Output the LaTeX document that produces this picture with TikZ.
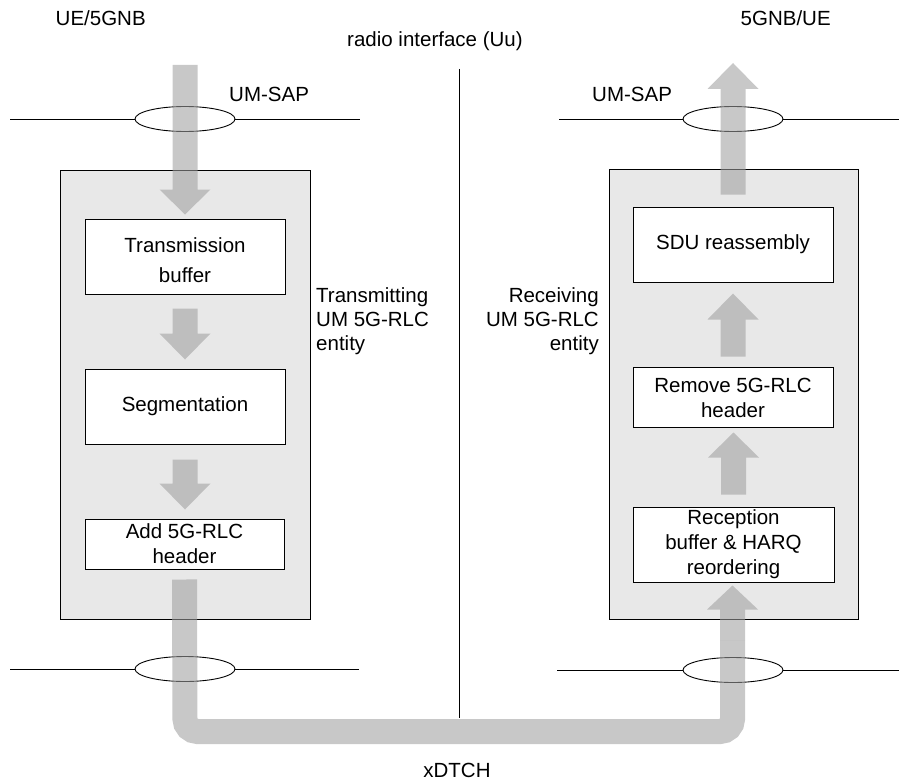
\documentclass[tikz,border=0pt]{standalone}
\usepackage{fontspec}
\setmainfont{Liberation Sans}
\usetikzlibrary{shapes.geometric,calc}

\definecolor{entityfill}{RGB}{232,232,232}
\definecolor{flowgray}{RGB}{158,158,158}

% Vertical block arrow: #1 = start of the shaft, #2 = tip,
% #3 = offset of the head base from the tip (+ for downward, - for upward)
\newcommand\flowarrow[3]{%
  \fill[flowfill] let \p1=#1, \p2=#2 in
    (\x1-12.5pt,\y1) -- (\x1-12.5pt,\y2#3) -- (\x1-25.5pt,\y2#3) --
    (\x1,\y2) -- (\x1+25.5pt,\y2#3) -- (\x1+12.5pt,\y2#3) --
    (\x1+12.5pt,\y1) -- cycle;}

\begin{document}
\begin{tikzpicture}[x=1pt,y=-1pt,
  font=\fontsize{20.5}{25}\selectfont,
  entity/.style={draw, line width=1pt, fill=entityfill, inner sep=0pt},
  stage/.style={draw, line width=1pt, fill=white, align=center,
    inner sep=0pt, minimum width=200pt},
  sap/.style={draw, line width=0.9pt, ellipse, minimum width=100pt,
    minimum height=25pt, inner sep=0pt},
  wire/.style={line width=0.9pt},
  plaintext/.style={inner sep=0pt},
  flowfill/.style={fill=flowgray, fill opacity=0.565},
  flowline/.style={draw=flowgray, draw opacity=0.565, line width=25pt,
    rounded corners=12.5pt}]
\useasboundingbox (0,0) rectangle (899,781);

% service access points and their lines
\node[sap] (sapTL) at (185,119) {};
\node[sap] (sapTR) at (733,119) {};
\node[sap] (sapBL) at (185,669) {};
\node[sap] (sapBR) at (733,670) {};
\coordinate (wTL0) at (10,119);  \coordinate (wTL1) at (360,119);
\coordinate (wTR0) at (559,119); \coordinate (wTR1) at (899,119);
\coordinate (wBL0) at (10,669);  \coordinate (wBL1) at (359,669);
\coordinate (wBR0) at (557,670); \coordinate (wBR1) at (899,670);
\draw[wire] (wTL0) -- (sapTL.west) (sapTL.east) -- (wTL1);
\draw[wire] (wTR0) -- (sapTR.west) (sapTR.east) -- (wTR1);
\draw[wire] (wBL0) -- (sapBL.west) (sapBL.east) -- (wBL1);
\draw[wire] (wBR0) -- (sapBR.west) (sapBR.east) -- (wBR1);

% radio interface divider
\coordinate (div0) at (459,69);
\coordinate (div1) at (459,718);
\draw[wire] (div0) -- (div1);

% RLC entities
\node[entity, minimum width=250pt, minimum height=449pt] (txent) at (185,394.5) {};
\node[entity, minimum width=249pt, minimum height=450pt] (rxent) at (733.5,394) {};

% processing stages
\node[stage, minimum height=75pt, font=\fontsize{20.5}{30}\selectfont] (tb) at (185,256.5) {\rule{0pt}{23pt}Transmission\\buffer};
\node[stage, minimum height=75pt] (seg) at (185,406.5) {Segmentation};
\node[stage, minimum height=50pt, minimum width=199pt] (add) at (184.5,544) {Add 5G-RLC\\header};
\node[stage, minimum height=75pt] (sdu) at (733,244.5) {SDU reassembly};
\node[stage, minimum height=60pt] (rem) at (733,397.5) {Remove 5G-RLC\\header};
\node[stage, minimum height=75pt, minimum width=201pt] (rec) at (733.5,544.5) {Reception\\buffer \& HARQ\\reordering};

% labels
\node[plaintext, anchor=base west] (ueL) at (55.5,26) {UE/5GNB};
\node[plaintext, anchor=base west] (ueR) at (740.5,26) {5GNB/UE};
\node[plaintext, anchor=base west] (uu) at (347,47) {radio interface (Uu)};
\node[plaintext, anchor=base west] (sapTLt) at (229,102) {UM-SAP};
\node[plaintext, anchor=base west] (sapTRt) at (592,102) {UM-SAP};
\node[plaintext, anchor=base] (xdtch) at (457,777) {xDTCH};
\node[plaintext, anchor=west, align=left, font=\fontsize{20.5}{24}\selectfont] (txlabel) at (316,321) {Transmitting\\UM 5G-RLC\\entity};
\node[plaintext, anchor=east, align=right, font=\fontsize{20.5}{24}\selectfont] (rxlabel) at (599,321) {Receiving\\UM 5G-RLC\\entity};

% data flow
\coordinate (inTop) at (185,65);
\coordinate (outTop) at (734,63);
\flowarrow{(inTop)}{([yshift=4pt]tb.north)}{+25pt}
\flowarrow{([yshift=-14pt]tb.south)}{([yshift=9pt]seg.north)}{+26pt}
\flowarrow{([yshift=-15pt]seg.south)}{([yshift=9pt]add.north)}{+26pt}

\coordinate (ustart) at ([yshift=-10pt]add.south);
\coordinate (ucl) at (185,731.5);
\coordinate (ucr) at (732.5,731.5);
\coordinate (ujoin) at (732.5,640);
\draw[flowline] (ustart) -- (ucl) -- (ucr) -- (ujoin);
\flowarrow{(ujoin)}{([yshift=-3pt]rec.south)}{-24pt}

\flowarrow{([yshift=12pt]rec.north)}{([yshift=-4.5pt]rem.south)}{-25pt}
\flowarrow{([yshift=10.5pt]rem.north)}{([yshift=-11pt]sdu.south)}{-26pt}
\flowarrow{([yshift=12pt]sdu.north)}{(outTop)}{-26pt}
\end{tikzpicture}
\end{document}
